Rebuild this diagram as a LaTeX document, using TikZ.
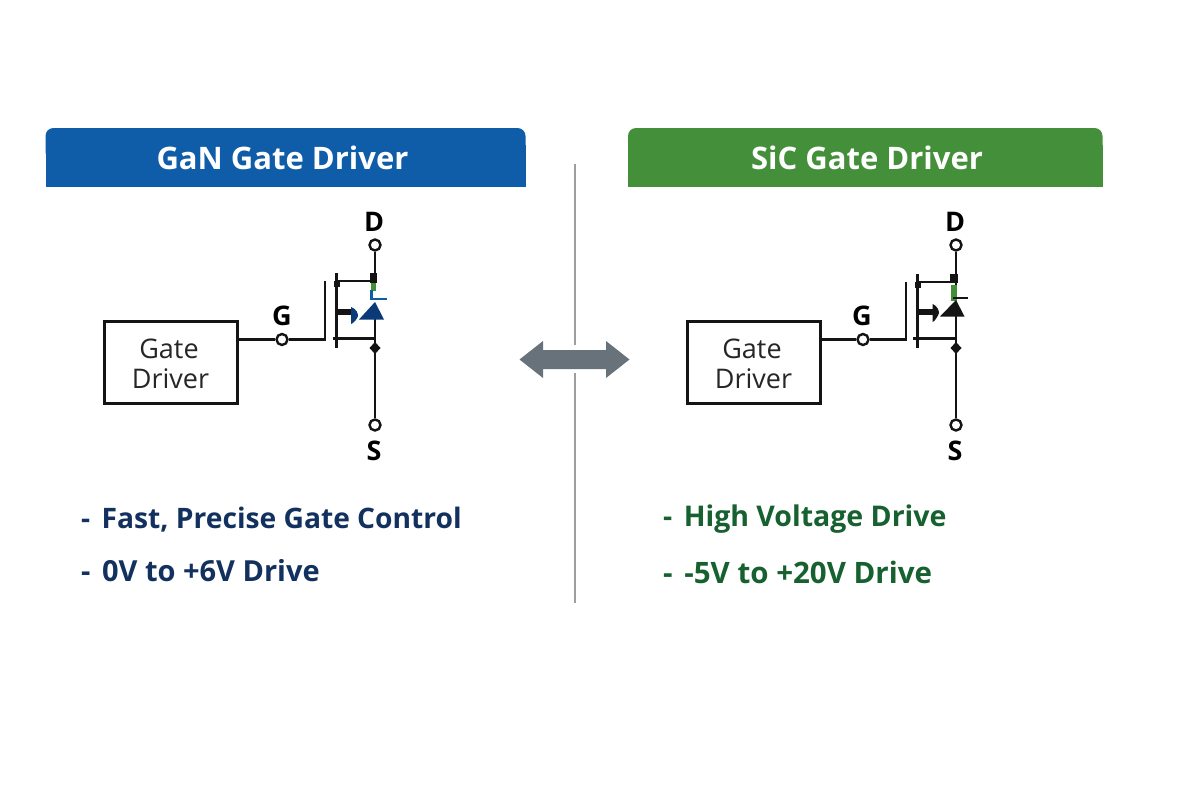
\documentclass[tikz,border=0pt]{standalone}
\usepackage{fontspec}
\setmainfont{Open Sans}
\definecolor{gandark}{HTML}{0F5CA8}
\definecolor{sicdark}{HTML}{44903A}
\definecolor{gantxt}{HTML}{12315F}
\definecolor{sictxt}{HTML}{17602F}
\definecolor{wire}{HTML}{141414}
\definecolor{ganfill}{HTML}{0B3A78}
\definecolor{arrowgrey}{HTML}{67727B}
\newcommand{\bulletfs}[1]{\fontsize{#1}{34}\selectfont\bfseries}
\tikzset{
 x=1pt,y=-1pt,
 header/.style={text=white,font=\fontsize{31}{36}\selectfont\bfseries,inner sep=0pt},
 pin/.style={circle,draw=wire,fill=white,line width=2.4pt,minimum size=11pt,inner sep=0pt},
 term/.style={text=black,font=\fontsize{27}{30}\selectfont\bfseries,inner sep=0pt},
 drvbox/.style={draw=wire,line width=2.6pt,fill=white,minimum width=133pt,minimum height=82pt,inner sep=0pt},
 drvtxt/.style={font=\fontsize{27}{30}\selectfont,text=black!85,inner sep=0pt},
 wirel/.style={draw=wire,line width=2.9pt},
 bullet/.style={anchor=west,inner sep=0pt},
}
\begin{document}
\begin{tikzpicture}
\useasboundingbox (0,0) rectangle (1200,800);
\fill[white] (0,0) rectangle (1200,800);
% headers
\fill[gandark,rounded corners=8pt] (45.5,128) rectangle (525.5,160);
\fill[gandark] (45.5,145) rectangle (525.5,186.5);
\fill[sicdark,rounded corners=8pt] (628,128) rectangle (1102.5,160);
\fill[sicdark] (628,145) rectangle (1102.5,186.5);
\node[header] (h1) at (282.5,158) {GaN Gate Driver};
\node[header] (h2) at (867,158) {SiC Gate Driver};
% divider
\coordinate (dtop) at (575,164);
\coordinate (dbot) at (575,603);
\coordinate (dg1) at (575,345);
\coordinate (dg2) at (575,373);
\draw[black!38,line width=1.3pt] (dtop) -- (dg1) (dg2) -- (dbot);
% double arrow
\fill[arrowgrey] (519.5,359.5) -- (543,341) -- (543,350) -- (606,350) -- (606,341) -- (629.5,359.5) -- (606,378) -- (606,369) -- (543,369) -- (543,378) -- cycle;
% left circuit
\node[drvbox] (d1) at (171,362.5) {};
\node[drvtxt] (d1a) at (169,349) {Gate};
\node[drvtxt] (d1b) at (170.5,379) {Driver};
\node[pin] (g1) at (282,339.5) {};
\node[pin] (dp1) at (375,245) {};
\node[pin] (sp1) at (375,425) {};
\node[term] (gl1) at (282,316) {G};
\node[term] (dl1) at (374,222) {D};
\node[term] (sl1) at (374,451) {S};
\coordinate (gt1) at (325,281);
\coordinate (gb1) at (325,339.5);
\draw[wirel] (d1.east |- g1) -- (g1) -- (gb1) -- (gt1);
\draw[wirel] (336.5,273) -- (336.5,348);
\coordinate (dj1) at (375,281);
\coordinate (sj1) at (375,338.5);
\draw[wirel] (336.5,281) -- (dj1);
\draw[wirel] (332.5,338.5) -- (sj1);
\draw[wirel] (dp1) -- (375,285);
\draw[wirel] (375,318) -- (sp1);
\fill[wire] (370,273) rectangle (376.5,283);
\fill[wire] (333.5,281) rectangle (339.5,287);
\fill[wire] (375,342) -- (380.5,348) -- (375,354) -- (369.5,348) -- cycle;
\fill[wire] (336.5,309) rectangle (353,315);
% green and blue bits
\fill[sicdark] (370.5,283) rectangle (375.5,291);
\draw[gandark,line width=2.8pt] (371.5,290) -- (371.5,299) -- (387,299);
\fill[ganfill] (375,302) -- (384,319.5) -- (359,319.5) -- cycle;
\fill[ganfill] (351,307) .. controls (357,309) and (358,314) .. (358,316) .. controls (357,319) and (354,323) .. (351,324) -- cycle;
% right circuit
\node[drvbox] (d2) at (754,362.5) {};
\node[drvtxt] (d2a) at (752,349) {Gate};
\node[drvtxt] (d2b) at (753.5,379) {Driver};
\node[pin] (g2) at (863,339.5) {};
\node[pin] (dp2) at (956,245) {};
\node[pin] (sp2) at (956,425) {};
\node[term] (gl2) at (862,316) {G};
\node[term] (dl2) at (955,222) {D};
\node[term] (sl2) at (955,451) {S};
\coordinate (gt2) at (906,281.5);
\coordinate (gb2) at (906,339.5);
\draw[wirel] (d2.east |- g2) -- (g2) -- (gb2) -- (gt2);
\draw[wirel] (917.7,274) -- (917.7,348);
\coordinate (dj2) at (956,282);
\coordinate (sj2) at (956,338.5);
\draw[wirel] (917.7,282) -- (dj2);
\draw[wirel] (913,338.5) -- (sj2);
\draw[wirel] (dp2) -- (956,285);
\draw[wirel] (956,316) -- (sp2);
\fill[wire] (950,274) rectangle (957.5,283);
\fill[wire] (914.7,282) rectangle (920.7,288);
\fill[wire] (956,342) -- (961.5,348) -- (956,354) -- (950.5,348) -- cycle;
\fill[wire] (917.7,309) rectangle (935,315);
\fill[sicdark] (950.5,285) rectangle (957,301);
\draw[wire,line width=2.8pt] (953,298) -- (968,298);
\fill[wire] (956,300) -- (964.5,316.5) -- (940,316.5) -- cycle;
\fill[wire] (932.7,304) .. controls (937,306) and (939,310) .. (939,313) .. controls (938,316) and (935,321) .. (932.7,322) -- cycle;
% texts
\node[bullet,text=gantxt,font=\bulletfs{28.2}] (t1) at (81,519.5) {-\hspace{4pt} Fast, Precise Gate Control};
\node[bullet,text=gantxt,font=\bulletfs{29}] (t2) at (81,570.5) {-\hspace{4pt} 0V to +6V Drive};
\node[bullet,text=sictxt,font=\bulletfs{28.5}] (t3) at (663,519.5) {-\hspace{4pt} High Voltage Drive};
\node[bullet,text=sictxt,font=\bulletfs{29.5}] (t4) at (663,572.5) {-\hspace{4pt} -5V to +20V Drive};
\end{tikzpicture}
\end{document}
